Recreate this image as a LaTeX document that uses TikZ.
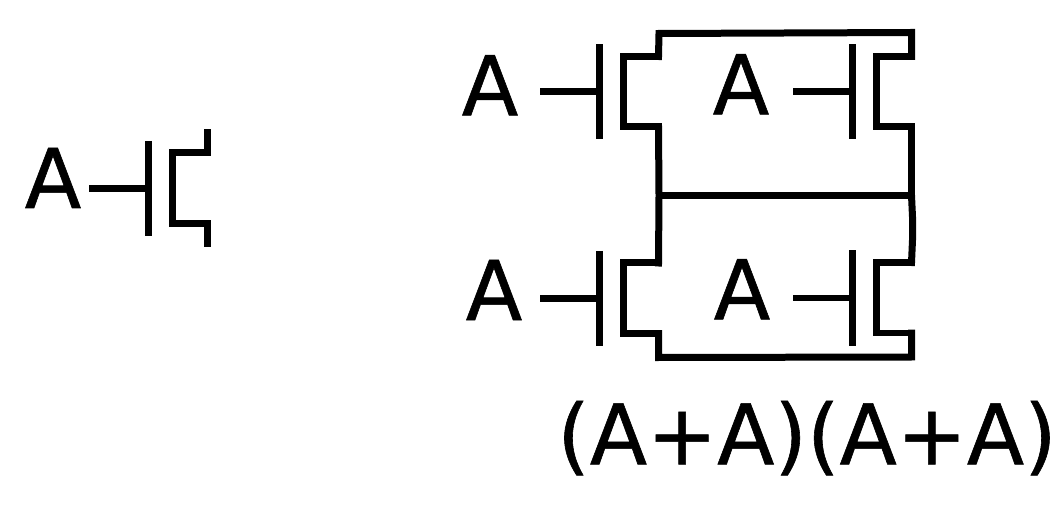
\documentclass[tikz,border=0pt]{standalone}
\usepackage{fontspec}
\setmainfont[FakeBold=0.7]{DejaVu Sans}
\tikzset{
	every node/.append style={inner sep=0pt,anchor=base,font=\fontsize{47}{50}\addfontfeature{FakeBold=0.7}\selectfont},
	gateline/.style={line width=0.14cm},
	rail/.style={line width=0.14cm,line cap=rect,line join=miter},
	transistor/.pic={
		\coordinate (-in) at (-59.5,0);
		\coordinate (-gate) at (0,0);
		\coordinate (-d) at (59,-35.5);
		\coordinate (-s) at (59,35);
		\draw[gateline] (-in) -- (-gate);
		\draw[gateline] (0,-47.5) -- (0,47.5);
		\draw[rail] (-d) -- (24,-35.5) -- (24,35) -- (-s);
	}
}

\begin{document}
\begin{tikzpicture}[x=0.02cm,y=-0.02cm]
	\useasboundingbox (0,0) rectangle (1064,506);
	% single transistor
	\node (labelsingle) at (53,208) {A};
	\pic (single) at (148.5,188.5) {transistor};
	\coordinate (singletop) at (207.5,132.5);
	\coordinate (singlebot) at (207.5,244);
	\draw[rail] (single-d) -- (singletop);
	\draw[rail] (single-s) -- (singlebot);
	% four transistors
	\node (labelul) at (490,115.3) {A};
	\node (labelur) at (741,114.3) {A};
	\node (labelll) at (494,320) {A};
	\node (labellr) at (742,319.3) {A};
	\pic (ul) at (599.5,92) {transistor};
	\pic (ur) at (852.5,92) {transistor};
	\pic (ll) at (599.5,298.5) {transistor};
	\pic (lr) at (852.5,298) {transistor};
	\coordinate (topleft) at (659,33.5);
	\coordinate (topright) at (911.5,32.5);
	\coordinate (midleft) at (659,195.5);
	\coordinate (midright) at (911.5,195.5);
	\coordinate (botleft) at (658.5,357.5);
	\coordinate (botright) at (911.5,357);
	\draw[rail] (ul-d) -- (topleft) -- (topright) -- (ur-d);
	\draw[rail] (ul-s) -- (midleft) -- (ll-d);
	\draw[rail] (ur-s) -- (midright);
	\draw[rail] (midright) -- (912.5,217) -- (912.5,240) -- (lr-d);
	\draw[rail] (midleft) -- (midright);
	\draw[rail] (ll-s) -- (botleft) -- (botright) -- (lr-s);
	\node[font=\fontsize{47.6}{50}\addfontfeature{FakeBold=0.7}\selectfont] (formula) at (807,464.3) {(A+A)(A+A)};
\end{tikzpicture}
\end{document}
